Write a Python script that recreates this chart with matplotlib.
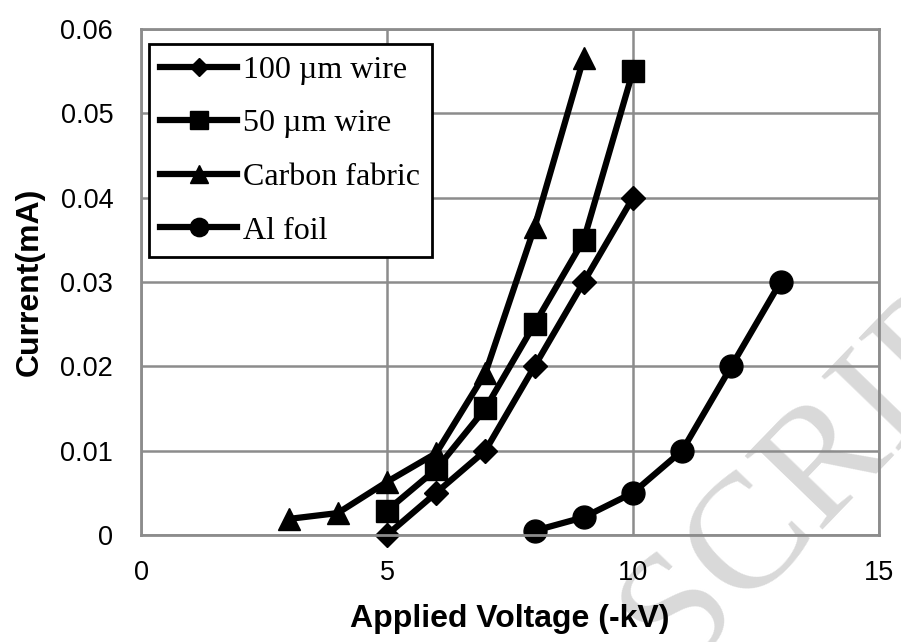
import matplotlib.pyplot as plt

# datos
v_100 = [5, 6, 7, 8, 9, 10]
i_100 = [0.0, 0.005, 0.010, 0.020, 0.030, 0.040]
v_50 = [5, 6, 7, 8, 9, 10]
i_50 = [0.0029, 0.0078, 0.015, 0.025, 0.035, 0.055]
v_cf = [3, 4, 5, 6, 7, 8, 9]
i_cf = [0.0019, 0.0026, 0.0063, 0.0097, 0.0192, 0.0365, 0.0566]
v_al = [8, 9, 10, 11, 12, 13]
i_al = [0.0005, 0.0021, 0.005, 0.010, 0.020, 0.030]
etiquetas = ['100 µm wire', '50 µm wire', 'Carbon fabric', 'Al foil']

fig = plt.figure(figsize=(9.01, 6.42), dpi=100)
ax = fig.add_axes([0.1565, 0.1667, 0.819, 0.7881])
ax.patch.set_facecolor('none')

# marca de agua (restos de "ACCEPTED MANUSCRIPT"), por debajo de todo
fig.text(0.72, 0.0, 'SCRIPT', fontsize=118, family='Liberation Serif',
         color='#d9d9d9', rotation=46, rotation_mode='anchor',
         ha='left', va='center', zorder=-5)

kw = dict(color='black', lw=4.5, clip_on=False)
ax.plot(v_100, i_100, marker='D', ms=12, label=etiquetas[0], **kw)
ax.plot(v_50, i_50, marker='s', ms=16, label=etiquetas[1], **kw)
ax.plot(v_cf, i_cf, marker='^', ms=16.5, label=etiquetas[2], **kw)
ax.plot(v_al, i_al, marker='o', ms=16.5, label=etiquetas[3], **kw)

ax.set_xlim(0, 15)
ax.set_ylim(0, 0.06)
ax.set_xticks([0, 5, 10, 15])
ax.set_yticks([0, 0.01, 0.02, 0.03, 0.04, 0.05, 0.06])
ax.set_yticklabels(['0', '0.01', '0.02', '0.03', '0.04', '0.05', '0.06'])
ax.grid(True, color='#8c8c8c', lw=1.8)
ax.set_axisbelow(True)
for s in ax.spines.values():
    s.set_color('#8c8c8c')
    s.set_linewidth(2)
ax.tick_params(length=0, labelsize=19.5)
ax.tick_params(axis='x', pad=18)
ax.tick_params(axis='y', pad=20)
for t in ax.get_xticklabels() + ax.get_yticklabels():
    t.set_family('Liberation Sans')

ax.set_xlabel('Applied Voltage (-kV)', fontsize=23, fontweight='bold',
              family='Liberation Sans', labelpad=13)
ax.set_ylabel('Current(mA)', fontsize=23, fontweight='bold',
              family='Liberation Sans', labelpad=11)

leg = ax.legend(loc='upper left', bbox_to_anchor=(0.011, 0.970), borderaxespad=0,
                fancybox=False, framealpha=1, edgecolor='black', handlelength=2.4,
                handletextpad=0.2, borderpad=0.35, labelspacing=0.76, markerscale=0.8,
                prop={'family': 'Liberation Serif', 'size': 23})
leg.get_frame().set_linewidth(2)

fig.savefig('out.png', dpi=100)
